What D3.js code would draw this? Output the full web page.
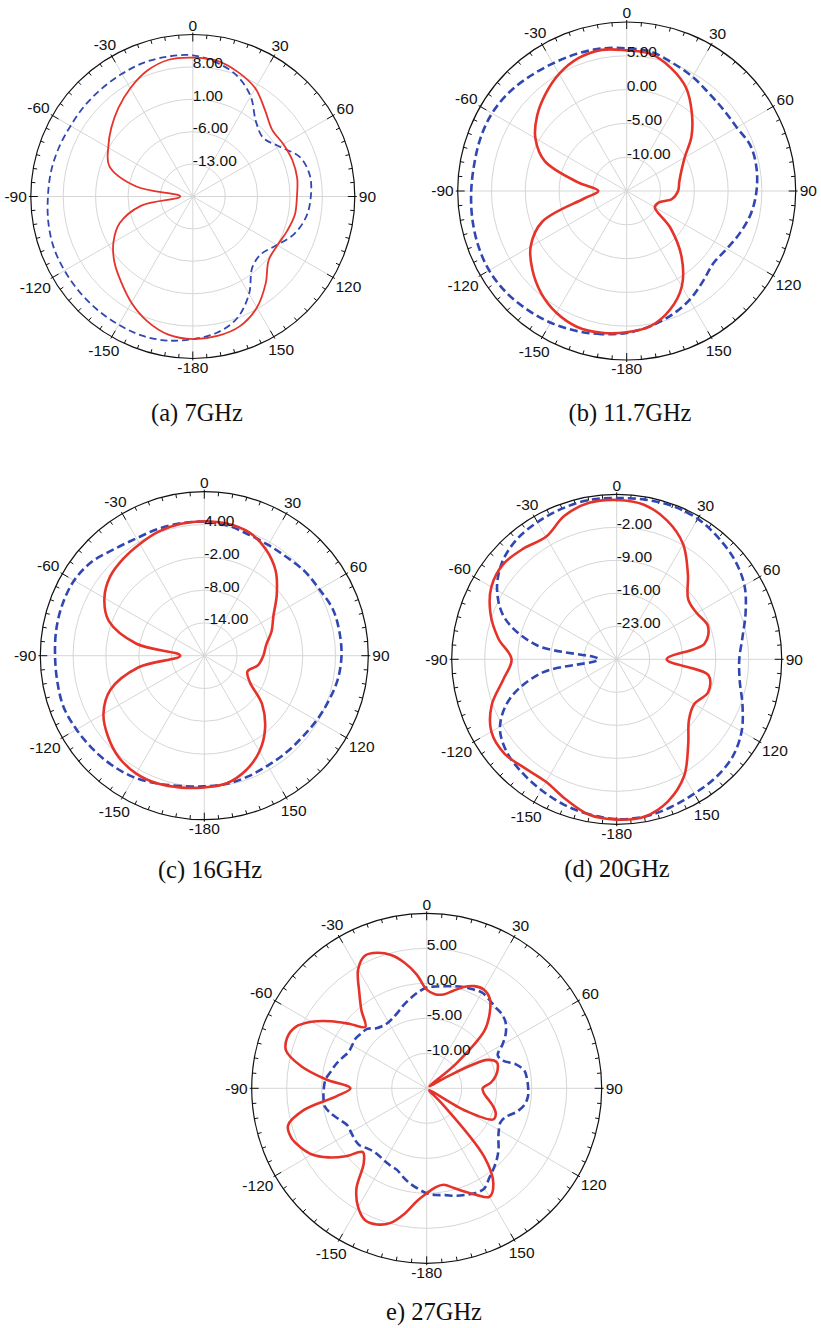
<!DOCTYPE html>
<html>
<head>
<meta charset="utf-8">
<script src="https://cdn.jsdelivr.net/npm/d3@7"></script>
<style>
  body { margin: 0; background: #fff; }
  svg text { font-family: "Liberation Sans", Arial, sans-serif; font-size: 15.5px; fill: #111; }
  svg text.caption { font-family: "Liberation Serif", "Times New Roman", serif; font-size: 24.5px; }
</style>
</head>
<body>
<div id="chart"></div>
<script>
// angle grid (deg, 0 = top, clockwise positive)
var angles10 = [-180, -170, -160, -150, -140, -130, -120, -110, -100, -90, -80, -70, -60, -50, -40, -30, -20, -10,
  0, 10, 20, 30, 40, 50, 60, 70, 80, 90, 100, 110, 120, 130, 140, 150, 160, 170];
var angles5 = [-180, -175, -170, -165, -160, -155, -150, -145, -140, -135, -130, -125, -120, -115, -110, -105, -100, -95,
  -90, -85, -80, -75, -70, -65, -60, -55, -50, -45, -40, -35, -30, -25, -20, -15, -10, -5,
  0, 5, 10, 15, 20, 25, 30, 35, 40, 45, 50, 55, 60, 65, 70, 75, 80, 85,
  90, 95, 100, 105, 110, 115, 120, 125, 130, 135, 140, 145, 150, 155, 160, 165, 170, 175];

var angleLabels = [0, 30, 60, 90, 120, 150, -180, -150, -120, -90, -60, -30];

// (a) 7GHz
var ticksA = [-13, -6, 1, 8];
var redA = [10.8, 10.3, 8.7, 6.5, 4.1, 2.1, -0.2, -3.2, -8.7, -17.3, -7.6, -0.8, 1.1, 3.0, 5.0, 7.0, 8.9, 10.0,
  10.0, 9.8, 8.6, 7.0, 4.3, 2.4, 2.6, 2.9, 2.9, 2.5, 2.4, 1.7, 1.1, 1.4, 4.5, 7.7, 9.8, 10.6];
var blueA = [10.8, 11.6, 12.0, 12.0, 12.0, 12.0, 12.0, 12.0, 11.7, 11.3, 11.1, 10.8, 10.5, 10.5, 10.5, 10.6, 10.8, 10.7,
  10.5, 9.4, 7.8, 5.0, 1.2, -0.2, 1.6, 4.7, 5.7, 5.5, 4.9, 3.4, 1.0, -0.7, 0.0, 4.3, 8.0, 9.9];

// (b) 11.7GHz
var ticksB = [-10, -5, 0, 5];
var redB = [5.9, 6.3, 6.4, 5.8, 4.7, 3.2, 1.4, -1.7, -8.6, -10.8, -7.7, -2.1, 0.6, 2.3, 3.7, 5.0, 5.9, 6.2,
  5.8, 5.6, 4.3, 2.6, 0.0, -2.5, -5.1, -6.4, -7.1, -7.4, -8.2, -10.0, -10.2, -6.6, -2.4, 1.3, 3.7, 5.3];
var blueB = [6.0, 6.5, 7.0, 7.5, 7.9, 8.3, 8.5, 8.4, 8.2, 8.0, 7.9, 8.0, 8.0, 7.7, 7.2, 6.8, 6.6, 6.4,
  6.1, 5.9, 5.1, 4.5, 3.9, 3.7, 3.8, 4.5, 4.5, 4.2, 3.7, 2.9, 2.1, 1.7, 2.5, 3.6, 4.5, 5.3];

// (c) 16GHz
var ticksC = [-14, -8, -2, 4];
var redC = [4.1, 4.5, 4.9, 4.9, 4.3, 3.0, 1.3, -1.7, -7.8, -15.6, -7.4, -1.4, 1.1, 2.5, 3.1, 3.6, 4.2, 4.5,
  4.6, 4.5, 4.0, 2.5, 0.3, -2.7, -5.4, -6.9, -8.5, -9.2, -10.0, -11.6, -10.4, -6.2, -2.7, 0.2, 2.3, 3.7];
var blueC = [3.9, 4.2, 4.9, 5.7, 6.2, 6.6, 7.0, 7.4, 7.3, 7.3, 7.5, 7.6, 7.5, 6.8, 5.5, 4.8, 4.7, 4.6,
  4.5, 4.2, 3.6, 3.4, 3.5, 4.0, 4.3, 5.0, 5.1, 5.1, 4.8, 4.2, 3.7, 3.3, 3.2, 3.2, 3.5, 3.8];

// (d) 20GHz
var ticksD = [-23, -16, -9, -2];
var redD = [4.0, 3.5, 1.6, 0.0, 0.2, 1.1, 0.7, -1.8, -5.6, -7.7, -4.5, -1.5, 0.7, 1.4, 0.7, 0.0, 2.4, 3.7,
  3.8, 3.3, 1.3, -1.8, -6.5, -10.2, -10.4, -9.4, -11.1, -19.4, -10.2, -9.4, -11.0, -10.0, -6.4, -1.4, 2.0, 3.9];
var blueD = [3.9, 3.4, 2.8, 2.0, 1.3, 0.5, -1.4, -6.0, -14.1, -26.1, -12.8, -4.8, -0.7, 1.8, 3.1, 3.6, 4.0, 4.3,
  4.2, 4.4, 4.6, 4.4, 3.6, 2.7, 1.3, -0.9, -2.9, -4.0, -3.5, -1.6, 0.6, 2.1, 2.7, 2.9, 3.4, 3.9];

// (e) 27GHz
var ticksE = [-10, -5, 0, 5];
var redE = [0.0, 1.2, 3.2, 4.9, 5.7, 5.8, 4.6, 2.5, -1.0, -2.1, 0.1, 2.2, 3.9, 4.9, 5.6, 5.5, 2.8, -2.1,
  -4.1, -0.6, 3.2, 5.8, 6.2, 5.7, 4.0, 1.7, -0.7, -2.6, -0.5, 1.8, 4.6, 5.9, 5.6, 4.7, 3.2, 1.3,
  -0.9, -1.5, -1.4, -0.6, 0.4, 1.1, 1.3, 0.7, -1.0, -3.3, -9.5, -14.5, -12.0, -5.4, -4.3, -4.5, -5.0, -5.8,
  -7.0, -6.8, -6.1, -5.2, -4.5, -4.5, -8.5, -14.5, -14.5, -12.0, -2.2, 1.6, 2.9, 1.8, 0.7, -0.3, -1.0, -0.8];
var blueE = [0.0, -0.6, -1.2, -1.9, -2.6, -2.8, -3.0, -3.2, -3.2, -2.9, -2.4, -2.4, -2.5, -2.5, -1.8, -0.9, -0.2, -0.2,
  -0.3, -0.5, -1.1, -1.6, -2.2, -2.7, -2.7, -2.6, -2.8, -3.0, -3.8, -4.1, -4.1, -3.8, -3.3, -2.6, -1.9, -1.2,
  -0.6, -0.4, -0.2, 0.1, 0.4, 0.6, 0.8, 0.5, 0.2, 0.1, -0.3, -1.2, -2.5, -3.8, -3.4, -1.8, -0.8, -0.6,
  -0.5, -0.5, -0.9, -1.8, -3.0, -3.4, -3.1, -2.5, -1.6, -0.8, -0.1, 0.6, 1.5, 1.5, 1.2, 0.9, 0.5, 0.3];

var RED = "#e5332a", BLUE = "#3047b2";

var svg = d3.select("#chart").append("svg")
  .attr("width", 821)
  .attr("height", 1328);

function PolarPlot(_svg, _cfg) {
  this.svg = _svg;
  this.cfg = _cfg;
  this.initVis();
}

PolarPlot.prototype.initVis = function () {
  var vis = this;
  var c = vis.cfg;
  var rad = function (d) { return d * Math.PI / 180; };

  vis.g = vis.svg.append("g")
    .attr("transform", "translate(" + c.cx + "," + c.cy + ")");

  vis.r = d3.scaleLinear().domain(c.domain).range([0, c.R]);

  // grid rings
  vis.g.selectAll(".ring").data(c.ticks).enter().append("circle")
    .attr("class", "ring")
    .attr("r", function (d) { return vis.r(d); })
    .attr("fill", "none")
    .attr("stroke", "#d6d6d6")
    .attr("stroke-width", 1);

  // spokes
  vis.g.selectAll(".spoke").data(angleLabels).enter().append("line")
    .attr("class", "spoke")
    .attr("x2", function (d) { return c.R * Math.sin(rad(d)); })
    .attr("y2", function (d) { return -c.R * Math.cos(rad(d)); })
    .attr("stroke", "#d6d6d6")
    .attr("stroke-width", 1);

  // outer circle + ticks
  vis.g.append("circle")
    .attr("r", c.R)
    .attr("fill", "none")
    .attr("stroke", "#111")
    .attr("stroke-width", 1.2);

  var tickAngles = d3.range(0, 360, 5);
  vis.g.selectAll(".tick").data(tickAngles).enter().append("line")
    .attr("class", "tick")
    .each(function (d) {
      var major = d % 30 === 0;
      var r0 = major ? c.R - 7 : c.R - 4, r1 = major ? c.R + 2 : c.R;
      var s = Math.sin(rad(d)), co = Math.cos(rad(d));
      d3.select(this)
        .attr("x1", r0 * s).attr("y1", -r0 * co)
        .attr("x2", r1 * s).attr("y2", -r1 * co);
    })
    .attr("stroke", "#111")
    .attr("stroke-width", 1);

  vis.line = d3.lineRadial()
    .angle(function (d) { return rad(d[0]); })
    .radius(function (d) { return vis.r(Math.max(c.domain[0], d[1])); })
    .curve(d3.curveCatmullRomClosed.alpha(0.5));

  vis.updateVis();
};

PolarPlot.prototype.updateVis = function () {
  var vis = this;
  var c = vis.cfg;
  var rad = function (d) { return d * Math.PI / 180; };

  vis.g.append("path")
    .datum(d3.zip(c.angles, c.blue))
    .attr("d", vis.line)
    .attr("fill", "none")
    .attr("stroke", BLUE)
    .attr("stroke-width", c.lw)
    .attr("stroke-dasharray", c.dash);

  vis.g.append("path")
    .datum(d3.zip(c.angles, c.red))
    .attr("d", vis.line)
    .attr("fill", "none")
    .attr("stroke", RED)
    .attr("stroke-width", c.lw);

  // radial labels
  vis.g.selectAll(".rlabel").data(c.ticks).enter().append("text")
    .attr("class", "rlabel")
    .attr("x", 0)
    .attr("y", function (d) { return -vis.r(d) + 1.5; })
    .text(function (d) { return d.toFixed(2); });

  // angle labels
  vis.g.selectAll(".alabel").data(angleLabels).enter().append("text")
    .attr("class", "alabel")
    .attr("text-anchor", "middle")
    .attr("dy", "0.35em")
    .text(function (d) { return String(d); })
    .each(function (d) {
      var w = this.getComputedTextLength();
      var s = Math.sin(rad(d)), co = Math.cos(rad(d));
      var dist = c.R + 4 + (w / 2) * Math.abs(s) + 5 * Math.abs(co);
      d3.select(this).attr("x", dist * s).attr("y", -dist * co);
    });

  vis.svg.append("text")
    .attr("class", "caption")
    .attr("text-anchor", "middle")
    .attr("x", c.capX)
    .attr("y", c.capY)
    .text(c.caption);
};

var plots = [
  { cx: 192.8, cy: 196.5, R: 162, domain: [-20, 15], ticks: ticksA, angles: angles10, red: redA, blue: blueA,
    lw: 1.8, dash: "7,4", caption: "(a) 7GHz", capX: 197, capY: 421 },
  { cx: 626.7, cy: 191, R: 169, domain: [-15, 10], ticks: ticksB, angles: angles10, red: redB, blue: blueB,
    lw: 2.6, dash: "8,4", caption: "(b) 11.7GHz", capX: 630, capY: 421 },
  { cx: 204.3, cy: 655.7, R: 164, domain: [-20, 10], ticks: ticksC, angles: angles10, red: redC, blue: blueC,
    lw: 2.6, dash: "8,4", caption: "(c) 16GHz", capX: 210, capY: 878 },
  { cx: 616.7, cy: 659.3, R: 165, domain: [-30, 5], ticks: ticksD, angles: angles10, red: redD, blue: blueD,
    lw: 2.6, dash: "8,4", caption: "(d) 20GHz", capX: 617, capY: 877 },
  { cx: 426.7, cy: 1088.3, R: 175, domain: [-15, 10], ticks: ticksE, angles: angles5, red: redE, blue: blueE,
    lw: 2.6, dash: "8,4", caption: "e) 27GHz", capX: 434, capY: 1320 }
];

plots.forEach(function (p) { new PolarPlot(svg, p); });
</script>
</body>
</html>
